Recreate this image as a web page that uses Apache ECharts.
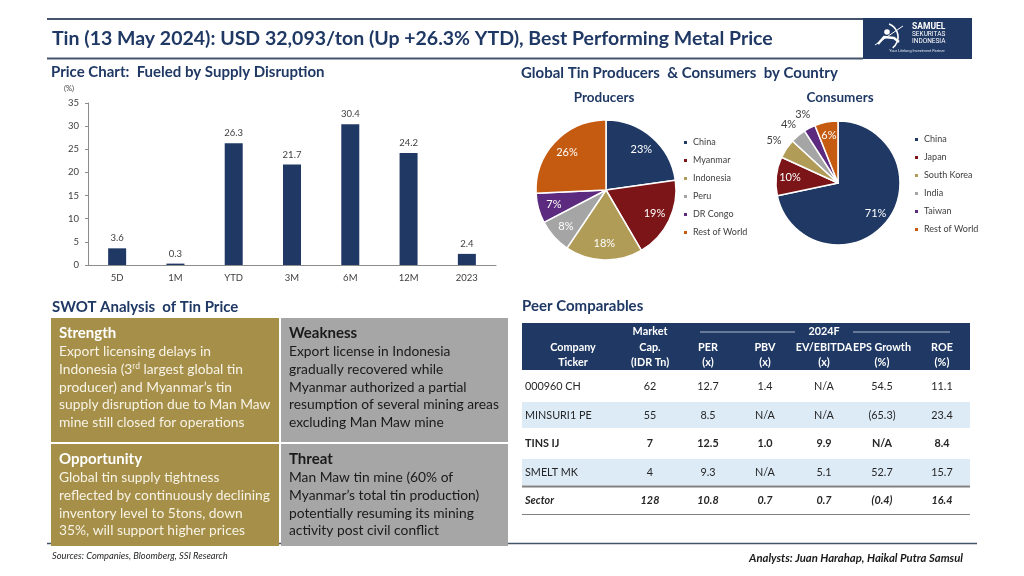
<!DOCTYPE html>
<html><head><meta charset="utf-8">
<script src="https://cdn.jsdelivr.net/npm/echarts@6/dist/echarts.min.js"></script>
<style>html,body{margin:0;padding:0;background:#fff}#c{width:1024px;height:576px}</style>
</head><body><div id="c"></div><script>
// ---------- DATA ----------
const periods = ['5D', '1M', 'YTD', '3M', '6M', '12M', '2023'];
const priceChanges = [3.6, 0.3, 26.3, 21.7, 30.4, 24.2, 2.4];

const producerNames = ['China', 'Myanmar', 'Indonesia', 'Peru', 'DR Congo', 'Rest of World'];
const producerShares = [23, 19, 18, 8, 7, 26];
const consumerNames = ['China', 'Japan', 'South Korea', 'India', 'Taiwan', 'Rest of World'];
const consumerShares = [71, 10, 5, 4, 3, 6];

const tickers = ['000960 CH', 'MINSURI1 PE', 'TINS IJ', 'SMELT MK', 'Sector'];
const marketCap = ['62', '55', '7', '4', '128'];
const per = ['12.7', '8.5', '12.5', '9.3', '10.8'];
const pbv = ['1.4', 'N/A', '1.0', 'N/A', '0.7'];
const evEbitda = ['N/A', 'N/A', '9.9', '5.1', '0.7'];
const epsGrowth = ['54.5', '(65.3)', 'N/A', '52.7', '(0.4)'];
const roe = ['11.1', '23.4', '8.4', '15.7', '16.4'];

const titleText = 'Tin (13 May 2024): USD 32,093/ton (Up +26.3% YTD), Best Performing Metal Price';
const swot = {
  strength: ['Export licensing delays in', 'Indonesia (3{sup|rd} largest global tin', 'producer) and Myanmar\u2019s tin', 'supply disruption due to Man Maw', 'mine still closed for operations'],
  weakness: ['Export license in Indonesia', 'gradually recovered while', 'Myanmar authorized a partial', 'resumption of several mining areas', 'excluding Man Maw mine'],
  opportunity: ['Global tin supply tightness', 'reflected by continuously declining', 'inventory level to 5tons, down', '35%, will support higher prices'],
  threat: ['Man Maw tin mine (60% of', 'Myanmar\u2019s total tin production)', 'potentially resuming its mining', 'activity post civil conflict']
};

// ---------- STYLE ----------
const NAVY = '#1f3864';
const sliceColors = ['#1f3864', '#7b1518', '#b09b57', '#a5a5a5', '#5c2a7e', '#c55a11'];
const FONT = 'Lato, "Liberation Sans", sans-serif';

const chart = echarts.init(document.getElementById('c'), null, {renderer: 'canvas'});

function pieLabelLayout(values, cx, cy, r, kIn, kOut, outside) {
  const total = values.reduce((a, b) => a + b, 0);
  const mids = []; let s = 0;
  values.forEach(v => { mids.push(s + v / 2); s += v; });
  return function (p) {
    const a = (-90 + 360 * mids[p.dataIndex] / total) * Math.PI / 180;
    const k = outside.includes(p.dataIndex) ? kOut : kIn;
    return {x: cx + k * r * Math.cos(a), y: cy + k * r * Math.sin(a), align: 'center', verticalAlign: 'middle'};
  };
}
function pieData(names, vals, outside) {
  return names.map((n, i) => ({
    name: n, value: vals[i],
    itemStyle: {color: sliceColors[i]},
    label: {color: outside.includes(i) ? '#404040' : '#ffffff'}
  }));
}

const G = [];
function txt(x, y, text, o) {
  o = o || {};
  G.push({type: 'text', x: x, y: y, z: o.z || 10, silent: true,
    style: Object.assign({text: text, fill: o.fill || '#262626', font: (o.style || 'normal') + ' ' + (o.weight || 'normal') + ' ' + (o.size || 12) + 'px ' + (o.family || FONT),
      textAlign: o.align || 'left', textVerticalAlign: 'middle'}, o.rich ? {rich: o.rich} : {})});
}
function rect(x, y, w, h, fill, z) {
  G.push({type: 'rect', silent: true, z: z || 1, shape: {x: x, y: y, width: w, height: h}, style: {fill: fill}});
}
function line(x1, y1, x2, y2, stroke, lw, z) {
  G.push({type: 'line', silent: true, z: z || 2, shape: {x1: x1, y1: y1, x2: x2, y2: y2}, style: {stroke: stroke, lineWidth: lw}});
}

// Title bar
line(47, 19, 863, 19, '#44546a', 2);
line(47, 58.5, 863, 58.5, '#44546a', 2);
txt(52, 39, titleText, {size: 19.5, weight: 'bold', fill: NAVY});
// Logo
rect(863, 18, 109, 41, '#1f3864', 3);
G.push({type: 'arc', silent: true, z: 4, shape: {cx: 884, cy: 37, r: 14, startAngle: -1.2, endAngle: 0.9}, style: {stroke: '#fff', lineWidth: 1.6, fill: null}});
G.push({type: 'circle', silent: true, z: 4, shape: {cx: 887, cy: 32, r: 2.8}, style: {fill: '#fff'}});
G.push({type: 'polyline', silent: true, z: 4, shape: {points: [[878, 44], [884, 37], [894, 38], [899, 42]]}, style: {stroke: '#fff', lineWidth: 2.4, fill: null}});
line(875, 45, 903, 26, '#fff', 1, 4);
txt(912, 27, 'SAMUEL', {size: 8.5, weight: 'bold', fill: '#fff', z: 5, family: 'Roboto'});
txt(912, 34.5, 'SEKURITAS', {size: 6.5, fill: '#fff', z: 5, family: 'Roboto'});
txt(912, 41.5, 'INDONESIA', {size: 6.5, fill: '#fff', z: 5, family: 'Roboto'});
txt(917, 51, 'Your Lifelong Investment Partner', {size: 3.8, fill: '#dfe6f2', z: 5, align: 'center', family: 'Roboto'});

// Section headings
txt(51, 72, 'Price Chart:  Fueled by Supply Disruption', {size: 15, weight: 'bold', fill: NAVY});
txt(64, 89, '(%)', {size: 7.5, fill: '#404040'});
txt(521, 73, 'Global Tin Producers  & Consumers  by Country', {size: 15, weight: 'bold', fill: NAVY});
txt(604, 98, 'Producers', {size: 13.5, weight: 'bold', fill: NAVY, align: 'center'});
txt(840, 98, 'Consumers', {size: 13.5, weight: 'bold', fill: NAVY, align: 'center'});
txt(52, 307, 'SWOT Analysis  of Tin Price', {size: 15, weight: 'bold', fill: NAVY});
txt(522, 306, 'Peer Comparables', {size: 15, weight: 'bold', fill: NAVY});

// SWOT boxes
const GOLD = '#a68f48', GREY = '#a6a6a6';
const boxes = [
  {x: 51, y: 318, w: 228, h: 124, fill: GOLD, head: 'Strength', lines: swot.strength, col: '#f7f3e6', hc: '#ffffff'},
  {x: 281, y: 318, w: 227, h: 124, fill: GREY, head: 'Weakness', lines: swot.weakness, col: '#1a1a1a', hc: '#1a1a1a'},
  {x: 51, y: 444, w: 228, h: 102, fill: GOLD, head: 'Opportunity', lines: swot.opportunity, col: '#f7f3e6', hc: '#ffffff'},
  {x: 281, y: 444, w: 227, h: 102, fill: GREY, head: 'Threat', lines: swot.threat, col: '#1a1a1a', hc: '#1a1a1a'}
];
line(47, 543.5, 977, 543.5, '#44546a', 1.5, 1);
boxes.forEach(b => {
  rect(b.x, b.y, b.w, b.h, b.fill, 3);
  txt(b.x + 8, b.y + 15, b.head, {size: 15, weight: 'bold', fill: b.hc, z: 5});
  b.lines.forEach((l, i) => {
    txt(b.x + 8, b.y + 34 + i * 17.6, l, {size: 13.8, fill: b.col, z: 5,
      rich: {sup: {fontSize: 8.5, verticalAlign: 'top', padding: [0, 0, 6, 0], fill: b.col, color: b.col}}});
  });
});
txt(52, 556, 'Sources: Companies, Bloomberg, SSI Research', {size: 9.3, style: 'italic', fill: '#262626'});
txt(963, 558, 'Analysts: Juan Harahap, Haikal Putra Samsul', {size: 11.3, style: 'italic', weight: 'bold', fill: '#1a1a1a', align: 'right'});

// Table
const TL = 522, TR = 970;
rect(TL, 323, TR - TL, 47, NAVY, 3);
const colX = [525, 650, 708, 765, 824, 882, 942];
const headers = [['Company', 'Ticker'], ['Market', 'Cap.', '(IDR Tn)'], ['PER', '(x)'], ['PBV', '(x)'], ['EV/EBITDA', '(x)'], ['EPS Growth', '(%)'], ['ROE', '(%)']];
headers.forEach((h, c) => {
  const x = c === 0 ? 573 : colX[c];
  const ys = h.length === 3 ? [332, 347.5, 363] : [347.5, 363];
  h.forEach((t, i) => txt(x, ys[i], t, {size: 10.8, weight: 'bold', fill: '#ffffff', align: 'center', z: 5}));
});
txt(824, 332, '2024F', {size: 10.8, weight: 'bold', fill: '#fff', align: 'center', z: 5});
line(700, 332, 795, 332, '#d9dde6', 0.8, 5);
line(853, 332, 950, 332, '#d9dde6', 0.8, 5);
const rowY = [387, 415.5, 444, 472.5, 501];
rect(TL, 402, TR - TL, 26, '#ddebf7', 2);
rect(TL, 459, TR - TL, 26, '#ddebf7', 2);
line(TL, 486.5, TR, 486.5, '#7f7f7f', 1.8, 4);
line(TL, 514.5, TR, 514.5, '#7f7f7f', 1.2, 4);
const cols = [tickers, marketCap, per, pbv, evEbitda, epsGrowth, roe];
tickers.forEach((t, r) => {
  const weight = r >= 2 && r !== 3 ? 'bold' : 'normal';
  const style = r === 4 ? 'italic' : 'normal';
  cols.forEach((col, c) => {
    txt(colX[c], rowY[r], col[r], {size: 10.8, weight: weight, style: style, fill: '#262626', align: c === 0 ? 'left' : 'center', z: 5});
  });
});

const option = {
  animation: false,
  backgroundColor: '#ffffff',
  textStyle: {fontFamily: FONT},
  grid: {left: 88, top: 103, width: 408, height: 162, containLabel: false},
  xAxis: {type: 'category', data: periods,
    axisLine: {lineStyle: {color: '#8c8c8c', width: 1}}, axisTick: {show: false},
    axisLabel: {fontSize: 9.5, color: '#404040', margin: 8, fontFamily: FONT}},
  yAxis: {type: 'value', min: 0, max: 35, interval: 5,
    axisLine: {show: true, lineStyle: {color: '#8c8c8c'}}, axisTick: {show: true, length: 3, lineStyle: {color: '#8c8c8c'}},
    splitLine: {show: false},
    axisLabel: {fontSize: 9.5, color: '#404040', margin: 9, fontFamily: FONT}},
  legend: [
    {data: producerNames, orient: 'vertical', left: 682, top: 137.5, icon: 'rect', itemWidth: 5, itemHeight: 5, itemGap: 8, padding: 0,
      textStyle: {fontSize: 9, color: '#404040', lineHeight: 10, fontFamily: FONT}, selectedMode: false},
    {data: consumerNames, orient: 'vertical', left: 913, top: 134.5, icon: 'rect', itemWidth: 5, itemHeight: 5, itemGap: 8, padding: 0,
      textStyle: {fontSize: 9, color: '#404040', lineHeight: 10, fontFamily: FONT}, selectedMode: false}
  ],
  series: [
    {type: 'bar', data: priceChanges, barWidth: 18, itemStyle: {color: NAVY},
      label: {show: true, position: 'top', distance: 5, fontSize: 9.5, color: '#404040', fontFamily: FONT}},
    {type: 'pie', name: 'Producers', center: [606, 190], radius: [0, 70], startAngle: 90, clockwise: true,
      avoidLabelOverlap: false, silent: true,
      data: pieData(producerNames, producerShares, []),
      itemStyle: {borderColor: '#ffffff', borderWidth: 1.5},
      label: {show: true, position: 'inside', formatter: '{c}%', fontSize: 11, fontFamily: FONT},
      labelLine: {show: false},
      labelLayout: pieLabelLayout(producerShares, 606, 190, 70, 0.77, 1.24, [])},
    {type: 'pie', name: 'Consumers', center: [838, 183], radius: [0, 62], startAngle: 90, clockwise: true,
      avoidLabelOverlap: false, silent: true,
      data: pieData(consumerNames, consumerShares, [2, 3, 4]),
      itemStyle: {borderColor: '#ffffff', borderWidth: 1.5},
      label: {show: true, position: 'inside', formatter: '{c}%', fontSize: 11, fontFamily: FONT},
      labelLine: {show: false},
      labelLayout: pieLabelLayout(consumerShares, 838, 183, 62, 0.78, 1.24, [2, 3, 4])}
  ],
  graphic: {elements: G}
};
chart.setOption(option);
</script></body></html>
